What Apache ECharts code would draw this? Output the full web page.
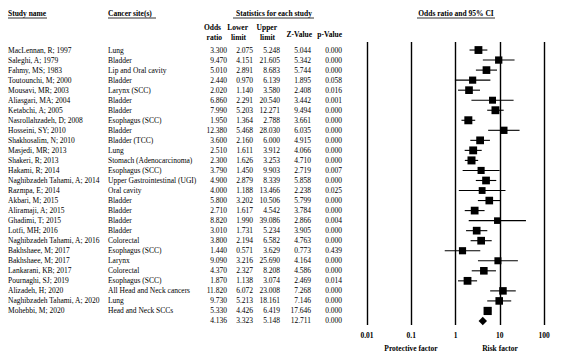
<!DOCTYPE html>
<html>
<head>
<meta charset="utf-8">
<script src="https://cdn.jsdelivr.net/npm/echarts@6/dist/echarts.min.js"></script>
<style>
  html, body { margin: 0; padding: 0; background: #fff; }
  #chart { width: 561px; height: 356px; }
</style>
</head>
<body>
<div id="chart"></div>
<script>
// Study rows of the forest plot
const studies = [
  'MacLennan, R; 1997', 'Saleghi, A; 1979', 'Fahmy, MS; 1983', 'Toutounchi, M; 2000',
  'Mousavi, MR; 2003', 'Aliasgari, MA; 2004', 'Ketabchi, A; 2005', 'Nasrollahzadeh, D; 2008',
  'Hosseini, SY; 2010', 'Shakhosalim, N; 2010', 'Masjedi, MR; 2013', 'Shakeri, R; 2013',
  'Hakami, R; 2014', 'Naghibzadeh Tahami, A; 2014', 'Razmpa, E; 2014', 'Akbari, M; 2015',
  'Aliramaji, A; 2015', 'Ghadimi, T; 2015', 'Lotfi, MH; 2016', 'Naghibzadeh Tahami, A; 2016',
  'Bakhshaee, M; 2017', 'Bakhshaee, M; 2017', 'Lankarani, KB; 2017', 'Pournaghi, SJ; 2019',
  'Alizadeh, H; 2020', 'Naghibzadeh Tahami, A; 2020', 'Mohebbi, M; 2020'
];
const sites = [
  'Lung', 'Bladder', 'Lip and Oral cavity', 'Bladder',
  'Larynx (SCC)', 'Bladder', 'Bladder', 'Esophagus (SCC)',
  'Bladder', 'Bladder (TCC)', 'Lung', 'Stomach (Adenocarcinoma)',
  'Esophagus (SCC)', 'Upper Gastrointestinal (UGI)', 'Oral cavity', 'Bladder',
  'Bladder', 'Bladder', 'Bladder', 'Colorectal',
  'Esophagus (SCC)', 'Larynx', 'Colorectal', 'Esophagus (SCC)',
  'All Head and Neck cancers', 'Lung', 'Head and Neck SCCs'
];
const oddsRatio = [3.300, 9.470, 5.010, 2.440, 2.020, 6.860, 7.990, 1.950, 12.380, 3.600, 2.510, 2.300,
  3.790, 4.900, 4.000, 5.800, 2.710, 8.820, 3.010, 3.800, 1.440, 9.090, 4.370, 1.870, 11.820, 9.730, 5.330];
const lowerLimit = [2.075, 4.151, 2.891, 0.970, 1.140, 2.291, 5.203, 1.364, 5.468, 2.160, 1.611, 1.626,
  1.450, 2.879, 1.188, 3.202, 1.617, 1.990, 1.731, 2.194, 0.571, 3.216, 2.327, 1.138, 6.072, 5.213, 4.426];
const upperLimit = [5.248, 21.605, 8.683, 6.139, 3.580, 20.540, 12.271, 2.788, 28.030, 6.000, 3.912, 3.253,
  9.903, 8.339, 13.466, 10.506, 4.542, 39.086, 5.234, 6.582, 3.629, 25.690, 8.208, 3.074, 23.008, 18.161, 6.419];
const zValue = [5.044, 5.342, 5.744, 1.895, 2.408, 3.442, 9.494, 3.661, 6.035, 4.915, 4.066, 4.710,
  2.719, 5.858, 2.238, 5.799, 3.784, 2.866, 3.905, 4.763, 0.773, 4.164, 4.586, 2.469, 7.268, 7.146, 17.646];
const pValue = [0.000, 0.000, 0.000, 0.058, 0.016, 0.001, 0.000, 0.000, 0.000, 0.000, 0.000, 0.000,
  0.007, 0.000, 0.025, 0.000, 0.000, 0.004, 0.000, 0.000, 0.439, 0.000, 0.000, 0.014, 0.000, 0.000, 0.000];

// Pooled estimate
const pooled = { or: 4.136, lower: 3.323, upper: 5.148, z: 12.711, p: 0.000 };

const tickLabels = ['0.01', '0.1', '1', '10', '100'];

const SERIF = '"Liberation Serif", "Times New Roman", serif';
const FONT = '7.5px ' + SERIF;
const BOLD = 'bold 7.5px ' + SERIF;

// Table column anchors (pixel x)
const COL = { name: 8, site: 108, or: 227, lo: 253, up: 280, z: 311, p: 342 };

const nRows = studies.length + 1;
const rowIdx = Array.from({ length: nRows }, (_, i) => [1, i]);

// Square size grows with the study's precision (random-effects style weight)
const weights = lowerLimit.map((l, i) => {
  const se = (Math.log(upperLimit[i]) - Math.log(l)) / 3.92;
  return 1 / (se * se + 0.15);
});
const wMax = Math.max(...weights);

const chart = echarts.init(document.getElementById('chart'), null, { renderer: 'svg' });

function txt(text, x, y, align, font) {
  return { type: 'text', style: { text, x, y, align, verticalAlign: 'middle', font, fill: '#000' } };
}

const option = {
  animation: false,
  backgroundColor: '#fff',
  grid: { left: 367, right: 17, top: 42, bottom: 31 },
  xAxis: {
    type: 'log', logBase: 10, min: 0.01, max: 100,
    axisLine: { show: false }, axisTick: { show: false },
    splitLine: { show: true, showMinLine: true, showMaxLine: true, lineStyle: { color: '#000', width: 1.4 } },
    axisLabel: {
      margin: 6, color: '#000', fontSize: 7.5, fontWeight: 'bold', fontFamily: SERIF,
      formatter: (v, i) => tickLabels[i] !== undefined ? tickLabels[i] : ''
    }
  },
  yAxis: {
    type: 'value', inverse: true, min: -0.8, max: 27.4, show: false,
    splitLine: { show: false }
  },
  series: [
    {
      // Study table: names, sites and statistics
      type: 'custom',
      clip: false,
      silent: true,
      data: rowIdx,
      renderItem: (params, api) => {
        const i = api.value(1);
        const y = api.coord([1, i])[1];
        const f = v => v.toFixed(3);
        if (i < studies.length) {
          return {
            type: 'group',
            children: [
              txt(studies[i], COL.name, y, 'left', FONT),
              txt(sites[i], COL.site, y, 'left', FONT),
              txt(f(oddsRatio[i]), COL.or, y, 'right', FONT),
              txt(f(lowerLimit[i]), COL.lo, y, 'right', FONT),
              txt(f(upperLimit[i]), COL.up, y, 'right', FONT),
              txt(f(zValue[i]), COL.z, y, 'right', FONT),
              txt(f(pValue[i]), COL.p, y, 'right', FONT)
            ]
          };
        }
        return {
          type: 'group',
          children: [
            txt(f(pooled.or), COL.or, y, 'right', FONT),
            txt(f(pooled.lower), COL.lo, y, 'right', FONT),
            txt(f(pooled.upper), COL.up, y, 'right', FONT),
            txt(f(pooled.z), COL.z, y, 'right', FONT),
            txt(f(pooled.p), COL.p, y, 'right', FONT)
          ]
        };
      }
    },
    {
      // Confidence intervals, study squares and the pooled diamond
      type: 'custom',
      clip: false,
      silent: true,
      data: rowIdx,
      z: 5,
      renderItem: (params, api) => {
        const i = api.value(1);
        if (i < studies.length) {
          const pL = api.coord([lowerLimit[i], i]);
          const pU = api.coord([upperLimit[i], i]);
          const pC = api.coord([oddsRatio[i], i]);
          const s = 5.2 + 3 * Math.sqrt(weights[i] / wMax);
          return {
            type: 'group',
            children: [
              { type: 'line', shape: { x1: pL[0], y1: pL[1], x2: pU[0], y2: pU[1] },
                style: { stroke: '#000', lineWidth: 1.1 } },
              { type: 'rect', shape: { x: pC[0] - s / 2, y: pC[1] - s / 2, width: s, height: s },
                style: { fill: '#000' } }
            ]
          };
        }
        const l = api.coord([pooled.lower, i]);
        const u = api.coord([pooled.upper, i]);
        const c = api.coord([pooled.or, i]);
        const h = 4.2;
        return {
          type: 'polygon',
          shape: { points: [[l[0], c[1]], [c[0], c[1] - h], [u[0], c[1]], [c[0], c[1] + h]] },
          style: { fill: '#000' }
        };
      }
    }
  ],
  graphic: [
    // Column headings
    { type: 'text', left: 8, top: 9, style: { text: 'Study name', font: BOLD, fill: '#000' } },
    { type: 'line', shape: { x1: 8, y1: 18, x2: 47, y2: 18 }, style: { stroke: '#000', lineWidth: 0.8 } },
    { type: 'text', left: 108, top: 9, style: { text: 'Cancer site(s)', font: BOLD, fill: '#000' } },
    { type: 'line', shape: { x1: 108, y1: 18, x2: 156, y2: 18 }, style: { stroke: '#000', lineWidth: 0.8 } },
    { type: 'text', x: 274, y: 13, style: { text: 'Statistics for each study', font: BOLD, fill: '#000', align: 'center', verticalAlign: 'middle' } },
    { type: 'line', shape: { x1: 233, y1: 18, x2: 314, y2: 18 }, style: { stroke: '#000', lineWidth: 0.8 } },
    { type: 'text', x: 456, y: 13, style: { text: 'Odds ratio and 95% CI', font: BOLD, fill: '#000', align: 'center', verticalAlign: 'middle' } },
    { type: 'line', shape: { x1: 417, y1: 18, x2: 495, y2: 18 }, style: { stroke: '#000', lineWidth: 0.8 } },

    { type: 'text', x: 221, y: 27, style: { text: 'Odds', font: BOLD, fill: '#000', align: 'right', verticalAlign: 'middle' } },
    { type: 'text', x: 222, y: 37, style: { text: 'ratio', font: BOLD, fill: '#000', align: 'right', verticalAlign: 'middle' } },
    { type: 'text', x: 248, y: 27, style: { text: 'Lower', font: BOLD, fill: '#000', align: 'right', verticalAlign: 'middle' } },
    { type: 'text', x: 246, y: 37, style: { text: 'limit', font: BOLD, fill: '#000', align: 'right', verticalAlign: 'middle' } },
    { type: 'text', x: 277, y: 27, style: { text: 'Upper', font: BOLD, fill: '#000', align: 'right', verticalAlign: 'middle' } },
    { type: 'text', x: 275, y: 37, style: { text: 'limit', font: BOLD, fill: '#000', align: 'right', verticalAlign: 'middle' } },
    { type: 'text', x: 312, y: 34, style: { text: 'Z-Value', font: BOLD, fill: '#000', align: 'right', verticalAlign: 'middle' } },
    { type: 'text', x: 342, y: 34, style: { text: 'p-Value', font: BOLD, fill: '#000', align: 'right', verticalAlign: 'middle' } },

    // Direction captions below the axis
    { type: 'text', x: 411, y: 348, style: { text: 'Protective factor', font: BOLD, fill: '#000', align: 'center', verticalAlign: 'middle' } },
    { type: 'text', x: 500, y: 348, style: { text: 'Risk factor', font: BOLD, fill: '#000', align: 'center', verticalAlign: 'middle' } }
  ]
};

chart.setOption(option);
</script>
</body>
</html>
